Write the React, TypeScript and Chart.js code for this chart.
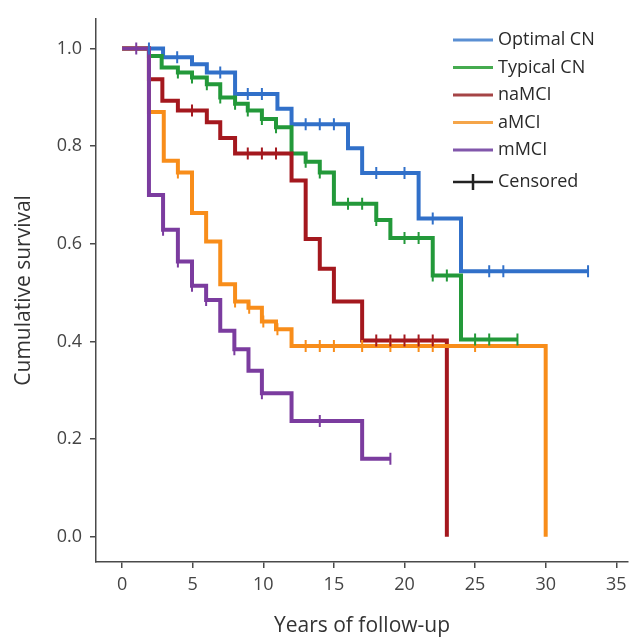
import React, { useEffect, useRef } from "react";
import { Chart, registerables } from "chart.js";
Chart.register(...registerables);

const groupLabels = ["Optimal CN", "Typical CN", "naMCI", "aMCI", "mMCI"];
const lineColors = ["#3170c9", "#23993a", "#a4181e", "#f88d1a", "#7b3c9f"];
const legendColors = ["#5a8fd3", "#45ab4f", "#a54446", "#f5a549", "#8157ab"];

const xTicks = [0, 5, 10, 15, 20, 25, 30, 35];
const yTicks = [0, 0.2, 0.4, 0.6, 0.8, 1.0];

const optimalTimes = [0, 2.9, 4.95, 6.0, 8.0, 11.0, 12.0, 16.0, 17.0, 21.0, 24.0, 33.0];
const optimalSurv = [1.0, 0.982, 0.968, 0.951, 0.907, 0.877, 0.845, 0.796, 0.745, 0.652, 0.544, 0.544];
const optimalCensored = [1.9, 3.9, 6.95, 8.9, 9.9, 13.0, 14.0, 15.0, 18.0, 20.0, 22.0, 26.0, 27.0, 33.0];

const typicalTimes = [0, 1.9, 2.8, 3.95, 4.95, 6.0, 6.95, 8.0, 8.9, 9.9, 10.9, 12.0, 13.0, 14.0, 15.0, 18.0, 19.0, 22.0, 24.0, 28.0];
const typicalSurv = [1.0, 0.985, 0.961, 0.951, 0.941, 0.927, 0.9, 0.887, 0.873, 0.856, 0.839, 0.785, 0.768, 0.746, 0.682, 0.649, 0.612, 0.535, 0.404, 0.404];
const typicalCensored = [3.95, 4.95, 6.0, 6.95, 8.0, 8.9, 9.9, 10.9, 13.0, 14.0, 16.0, 17.0, 18.0, 20.0, 21.0, 22.0, 23.0, 25.0, 26.0, 28.0];

const naTimes = [0, 1.9, 2.85, 3.95, 6.0, 6.95, 8.0, 12.0, 13.0, 14.0, 15.0, 17.0, 23.0];
const naSurv = [1.0, 0.937, 0.893, 0.873, 0.849, 0.817, 0.785, 0.73, 0.61, 0.549, 0.482, 0.402, 0.0];
const naCensored = [4.95, 8.9, 9.9, 10.9, 18.0, 19.0, 20.0, 21.0, 22.0];

const aTimes = [0, 1.9, 2.95, 3.95, 4.95, 5.95, 6.95, 8.0, 8.95, 9.9, 10.9, 12.0, 30.0];
const aSurv = [1.0, 0.87, 0.77, 0.746, 0.663, 0.605, 0.517, 0.482, 0.469, 0.441, 0.425, 0.391, 0.0];
const aCensored = [3.95, 8.0, 9.0, 10.0, 11.0, 13.0, 14.0, 15.0, 17.0, 19.0, 21.0, 22.0, 25.0];

const mTimes = [0, 1.9, 2.9, 3.95, 4.95, 5.95, 6.95, 7.95, 8.95, 9.9, 12.0, 17.0, 19.0];
const mSurv = [1.0, 0.7, 0.629, 0.564, 0.514, 0.485, 0.422, 0.384, 0.34, 0.294, 0.237, 0.16, 0.16];
const mCensored = [1.0, 2.9, 3.95, 4.95, 5.95, 7.95, 9.9, 14.0, 19.0];

const groupTimes = [optimalTimes, typicalTimes, naTimes, aTimes, mTimes];
const groupSurv = [optimalSurv, typicalSurv, naSurv, aSurv, mSurv];
const groupCensored = [optimalCensored, typicalCensored, naCensored, aCensored, mCensored];

function stepValue(times: number[], surv: number[], t: number): number {
  let v = surv[0];
  for (let i = 0; i < times.length; i++) if (times[i] <= t + 1e-6) v = surv[i];
  return v;
}

const FONT = "'Open Sans', 'Noto Sans', sans-serif";

const legendPlugin = {
  id: "kmLegend",
  afterDraw(chart: any) {
    const ctx = chart.ctx;
    ctx.save();
    ctx.font = `18px ${FONT}`;
    ctx.textBaseline = "middle";
    ctx.textAlign = "left";
    const x0 = 453, x1 = 493, tx = 498;
    const rows = [40, 67.5, 95, 122.5, 150];
    groupLabels.forEach((lab, i) => {
      ctx.strokeStyle = legendColors[i];
      ctx.lineWidth = 3;
      ctx.beginPath();
      ctx.moveTo(x0, rows[i]);
      ctx.lineTo(x1, rows[i]);
      ctx.stroke();
      ctx.fillStyle = "#2a2a2a";
      ctx.fillText(lab, tx, rows[i]);
    });
    const cy = 182;
    ctx.strokeStyle = "#222";
    ctx.lineWidth = 2.5;
    ctx.beginPath();
    ctx.moveTo(x0, cy);
    ctx.lineTo(x1, cy);
    ctx.moveTo((x0 + x1) / 2, cy - 8);
    ctx.lineTo((x0 + x1) / 2, cy + 8);
    ctx.stroke();
    ctx.fillStyle = "#2a2a2a";
    ctx.fillText("Censored", tx, cy);
    ctx.restore();
  },
};

export default function App() {
  const ref = useRef<HTMLCanvasElement>(null);
  useEffect(() => {
    if (!ref.current) return;
    const datasets: any[] = [];
    groupLabels.forEach((lab, i) => {
      datasets.push({
        type: "line",
        label: lab,
        data: groupTimes[i].map((t, j) => ({ x: t, y: groupSurv[i][j] })),
        borderColor: lineColors[i],
        backgroundColor: lineColors[i],
        borderWidth: 4,
        stepped: true,
        pointRadius: 0,
        fill: false,
        order: 10 - i,
      });
    });
    groupLabels.forEach((lab, i) => {
      datasets.push({
        type: "scatter",
        label: lab + " censored",
        data: groupCensored[i].map((t) => ({ x: t, y: stepValue(groupTimes[i], groupSurv[i], t) })),
        borderColor: lineColors[i],
        backgroundColor: lineColors[i],
        pointStyle: "line",
        rotation: 90,
        pointRadius: 6,
        pointBorderWidth: 2,
        showLine: false,
        order: i,
      });
    });
    const axisColor = "#4a4a4a";
    const chart = new Chart(ref.current, {
      type: "line",
      data: { datasets },
      plugins: [legendPlugin],
      options: {
        animation: false,
        responsive: false,
        layout: { padding: { top: 15, right: 0, left: 0, bottom: 0 } },
        plugins: { legend: { display: false }, tooltip: { enabled: false } },
        scales: {
          x: {
            type: "linear",
            min: -1.85,
            max: 35.83,
            afterBuildTicks: (s: any) => {
              s.ticks = xTicks.map((v) => ({ value: v }));
            },
            afterFit: (s: any) => {
              s.height = 77;
            },
            grid: { display: true, drawOnChartArea: false, drawTicks: true, tickLength: 6, color: axisColor, lineWidth: 1.5 },
            border: { display: true, color: axisColor, width: 1.5 },
            ticks: { font: { family: FONT, size: 18 }, color: "#444", padding: 6, callback: (v: any) => String(v) },
            title: { display: true, text: "Years of follow-up", font: { family: FONT, size: 21 }, color: "#333", padding: { top: 0, bottom: 0 } },
          },
          y: {
            type: "linear",
            min: -0.0517,
            max: 1.061,
            afterBuildTicks: (s: any) => {
              s.ticks = yTicks.map((v) => ({ value: v }));
            },
            afterFit: (s: any) => {
              s.width = 96;
            },
            grid: { display: true, drawOnChartArea: false, drawTicks: true, tickLength: 6, color: axisColor, lineWidth: 1.5 },
            border: { display: true, color: axisColor, width: 1.5 },
            ticks: { font: { family: FONT, size: 18 }, color: "#444", padding: 8, callback: (v: any) => Number(v).toFixed(1) },
            title: { display: true, text: "Cumulative survival", font: { family: FONT, size: 21 }, color: "#333", padding: { top: 11, bottom: 0 } },
          },
        },
      },
    });
    return () => chart.destroy();
  }, []);
  return (
    <div style={{ position: "absolute", left: 0, top: 0, width: 636, height: 639, background: "#fff" }}>
      <canvas ref={ref} width={636} height={639} style={{ display: "block" }} />
    </div>
  );
}
